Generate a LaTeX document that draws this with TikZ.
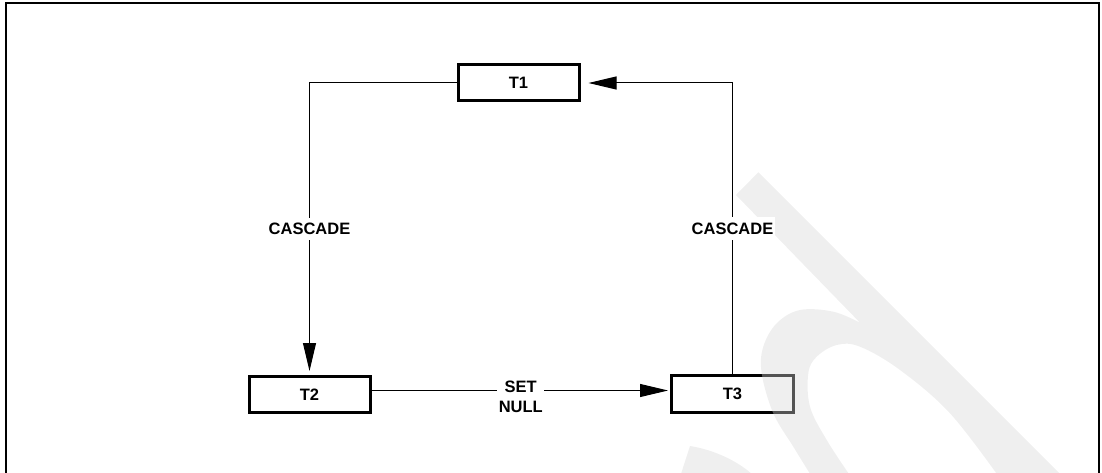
\documentclass[tikz,border=0pt]{standalone}
\usepackage{fontspec}
\setmainfont{Liberation Sans}
\usetikzlibrary{arrows.meta}
\definecolor{wmgrey}{rgb}{0.84,0.84,0.84}
\begin{document}
\begin{tikzpicture}[x=1pt,y=-1pt,
  every node/.style={font=\fontsize{16.5}{20}\selectfont\bfseries},
  tbox/.style={draw=black,line width=3pt,minimum width=121pt,minimum height=36pt,inner sep=0pt,fill=white},
  conn/.style={draw=black,line width=1pt},
  tip/.style={-{Triangle[length=28pt,width=13pt]}},
  lbl/.style={fill=white,inner xsep=2pt,inner ysep=5.5pt},
  wm/.style={fill=wmgrey,fill opacity=0.39}]
\useasboundingbox (0,0) rectangle (1102,473);
% frame
\draw[line width=2pt] (6,476) -- (6,3) -- (1099,3) -- (1099,476);
% tables
\node[tbox] (T1) at (518.5,83) {T1};
\node[tbox] (T2) at (309.5,394.5) {T2};
\node[tbox,minimum width=122pt,minimum height=37pt] (T3) at (732.5,394) {T3};
% watermark
\fill[wm] (758.3,172.3) -- (1063,477) -- (999,477)
  -- plot[smooth,tension=0.6] coordinates {(999,477) (950,413.3) (900,370) (860,346.7) (836.7,345) (816.7,356.7) (808.3,373.3) (810,406.7) (826.7,440) (851,477)}
  -- (812,477)
  -- plot[smooth,tension=0.6] coordinates {(812,477) (793.3,446.7) (773.3,413.3) (761.7,373.3) (763.3,346.7) (776.7,323.3) (800,310) (833.3,311.7) (860,322.7)}
  -- (736,195) -- cycle;
\fill[wm] (690,446) .. controls (715,450) and (740,462) .. (755,477) -- (680,477) -- cycle;
% connectors
\draw[conn,tip,shorten >=4pt] (T1.west) -| node[lbl,pos=0.75] (c1) {CASCADE} (T2.north);
\draw[conn,tip,shorten >=8pt] (T3.north) |- node[lbl,pos=0.25] (c2) {CASCADE} (T1.east);
\draw[conn,tip,shorten >=2pt] ([yshift=4pt]T2.east) -- node[lbl,align=center,inner xsep=1.5pt,inner ysep=4pt,yshift=-6pt] (sn) {SET\\NULL} ([yshift=4pt]T2.east -| T3.west);
\end{tikzpicture}
\end{document}
